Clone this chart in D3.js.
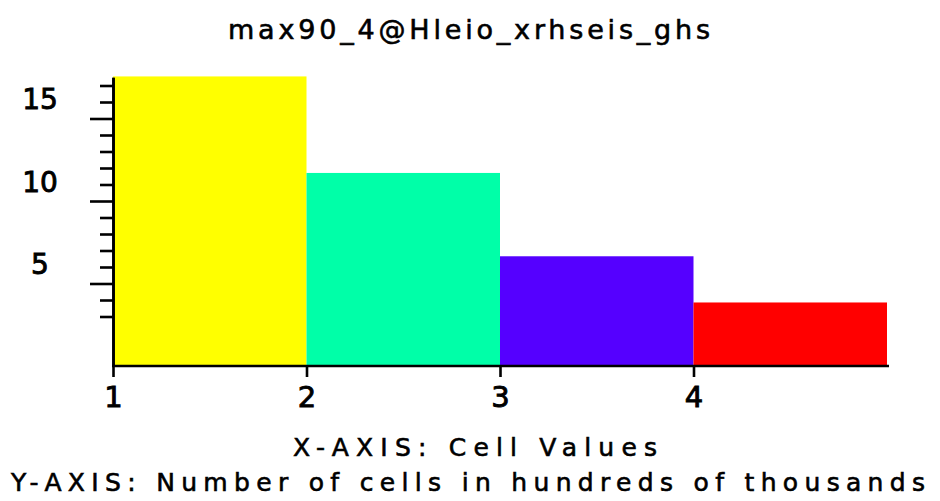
<!DOCTYPE html>
<html>
<head>
<meta charset="utf-8">
<script src="https://cdn.jsdelivr.net/npm/d3@7"></script>
<style>
  body { margin: 0; background: #fff; }
  text { font-family: "DejaVu Sans", sans-serif; fill: #000; }
</style>
</head>
<body>
<div class="histogram"></div>
<script>
var width = 940
var height = 501

// histogram data (counts in hundreds of thousands)
var binStarts = [1, 2, 3, 4]
var binEnds = [2, 3, 4, 5]
var counts = [17.55, 11.7, 6.65, 3.85]
var binColors = ['#ffff00', '#00ffa8', '#5500ff', '#ff0000']

var xTicks = [1, 2, 3, 4]
var yMinorTicks = [3, 4, 6, 7, 8, 9, 11, 12, 13, 14, 16, 17]
var yMajorTicks = [5, 10, 15]

var title = 'max90_4@Hleio_xrhseis_ghs'
var xTitle = 'X-AXIS: Cell Values'
var yTitle = 'Y-AXIS: Number of cells in hundreds of thousands'

function drawHistogram() {
    var svg = d3.select('.histogram').append('svg')
        .attr('width', width)
        .attr('height', height)

    var x = d3.scaleLinear().domain([1, 5]).range([113, 887])
    var y = d3.scaleLinear().domain([0, 17.5]).range([366, 77.25])

    // bars
    svg.selectAll('rect')
        .data(counts)
        .enter()
        .append('rect')
        .attr('x', function (d, i) { return x(binStarts[i]) })
        .attr('width', function (d, i) { return x(binEnds[i]) - x(binStarts[i]) })
        .attr('y', function (d) { return y(d) })
        .attr('height', function (d) { return y(0) - y(d) })
        .attr('fill', function (d, i) { return binColors[i] })

    // y axis: minor ticks
    svg.append('g')
        .attr('transform', 'translate(' + x(1) + ',0)')
        .call(d3.axisLeft(y).tickValues(yMinorTicks).tickSize(13).tickSizeOuter(0).tickFormat(''))

    // y axis: major ticks with labels
    var yMajor = svg.append('g')
        .attr('transform', 'translate(' + x(1) + ',0)')
        .call(d3.axisLeft(y).tickValues(yMajorTicks).tickSize(23).tickSizeOuter(0))
    yMajor.selectAll('text')
        .attr('x', -73)
        .attr('dy', -10)
        .attr('text-anchor', 'middle')
        .style('font-size', '28px')

    // x axis
    var xAxis = svg.append('g')
        .attr('transform', 'translate(0,' + y(0) + ')')
        .call(d3.axisBottom(x).tickValues(xTicks).tickSize(11).tickSizeOuter(0).tickFormat(d3.format('d')))
    xAxis.select('.domain').attr('d', 'M' + (x(1) - 1) + ',0H' + (x(5) + 2))
    xAxis.selectAll('text')
        .attr('y', 41)
        .attr('dy', 0)
        .style('font-size', '29px')

    svg.selectAll('.domain, .tick line')
        .attr('stroke', '#000')
        .attr('stroke-width', 2.6)
    svg.selectAll('.tick text')
        .style('font-family', '"DejaVu Sans", sans-serif')
        .attr('fill', '#000')
        .attr('stroke', '#000')
        .attr('stroke-width', 0.9)

    // titles (wide-spaced, like the stroke font of the original)
    svg.append('text')
        .attr('x', 228).attr('y', 39)
        .attr('textLength', 482).attr('lengthAdjust', 'spacing')
        .attr('stroke', '#000').attr('stroke-width', 0.6)
        .style('font-size', '27px')
        .text(title)

    svg.append('text')
        .attr('x', 293).attr('y', 456)
        .attr('textLength', 364).attr('lengthAdjust', 'spacing')
        .attr('stroke', '#000').attr('stroke-width', 0.6)
        .style('font-size', '25px')
        .text(xTitle)

    svg.append('text')
        .attr('x', 11).attr('y', 491)
        .attr('textLength', 914).attr('lengthAdjust', 'spacing')
        .attr('stroke', '#000').attr('stroke-width', 0.6)
        .style('font-size', '25px')
        .text(yTitle)
}

drawHistogram()
</script>
</body>
</html>
